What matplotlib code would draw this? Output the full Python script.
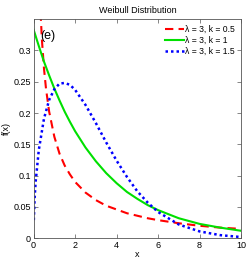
import matplotlib
matplotlib.use("Agg")
import matplotlib.pyplot as plt

# values
x_k05 = [0.2, 0.25, 0.3, 0.4, 0.5, 0.6, 0.75, 1, 1.25, 1.5, 1.75, 2, 2.5, 3, 3.5, 4, 4.5, 5, 5.5, 6, 7, 8, 9, 10]
y_k05 = [0.499, 0.433, 0.384, 0.317, 0.271, 0.238, 0.202, 0.162, 0.135, 0.116, 0.102, 0.090, 0.073, 0.061,
         0.052, 0.046, 0.040, 0.036, 0.032, 0.029, 0.024, 0.020, 0.017, 0.015]

x_k1 = [0, 0.25, 0.5, 0.75, 1, 1.25, 1.5, 1.75, 2, 2.5, 3, 3.5, 4, 4.5, 5, 5.5, 6, 7, 8, 9, 10]
y_k1 = [0.333, 0.307, 0.282, 0.260, 0.239, 0.220, 0.202, 0.186, 0.171, 0.145, 0.123, 0.104, 0.088, 0.074,
        0.063, 0.053, 0.045, 0.032, 0.023, 0.017, 0.012]

x_k15 = [0.01, 0.05, 0.1, 0.25, 0.5, 0.75, 1, 1.25, 1.5, 1.75, 2, 2.5, 3, 3.5, 4, 4.5, 5, 5.5, 6, 7, 8, 9, 10]
y_k15 = [0.029, 0.065, 0.091, 0.141, 0.191, 0.221, 0.238, 0.247, 0.248, 0.245, 0.237, 0.213, 0.184, 0.153,
         0.124, 0.098, 0.075, 0.057, 0.042, 0.022, 0.011, 0.005, 0.002]

labels = ["λ = 3, k = 0.5", "λ = 3, k = 1", "λ = 3, k = 1.5"]

plt.rcParams["font.family"] = ["Liberation Sans", "DejaVu Sans"]
fig = plt.figure(figsize=(2.49, 2.61), dpi=100)
ax = fig.add_axes([0.135, 0.087, 0.833, 0.840])

ax.plot(x_k05, y_k05, color="#ff0000", linestyle=(0, (4, 2.5)), linewidth=1.5, label=labels[0])
ax.plot(x_k1, y_k1, color="#00e000", linestyle="-", linewidth=1.5, label=labels[1])
ax.plot(x_k15, y_k15, color="#0000ff", linestyle=(0, (1, 1.2)), linewidth=1.8, label=labels[2])

ax.set_xlim(0, 10)
ax.set_ylim(0, 0.35)
ax.set_xticks([0, 2, 4, 6, 8, 10])
ax.set_yticks([0, 0.05, 0.1, 0.15, 0.2, 0.25, 0.3])
ax.set_yticklabels(["0", "0.05", "0.1", "0.15", "0.2", "0.25", "0.3"])
ax.tick_params(direction="in", top=True, right=True, labelsize=6.5, length=3, width=0.5, pad=2,
               color="#555555")
for s in ax.spines.values():
    s.set_linewidth(0.6)
    s.set_color("#555555")

ax.set_title("Weibull Distribution", fontsize=6.5, pad=4)
ax.set_xlabel("x", fontsize=6.5, labelpad=0)
ax.set_ylabel("f(x)", fontsize=6.5, labelpad=2)
ax.text(0.3, 0.318, "(e)", fontsize=9)

ax.legend(loc="upper right", frameon=False, fontsize=6.2, handlelength=2.2, handletextpad=0.2,
          labelspacing=0.2, borderaxespad=0.3)

fig.savefig("out.png", dpi=100)
